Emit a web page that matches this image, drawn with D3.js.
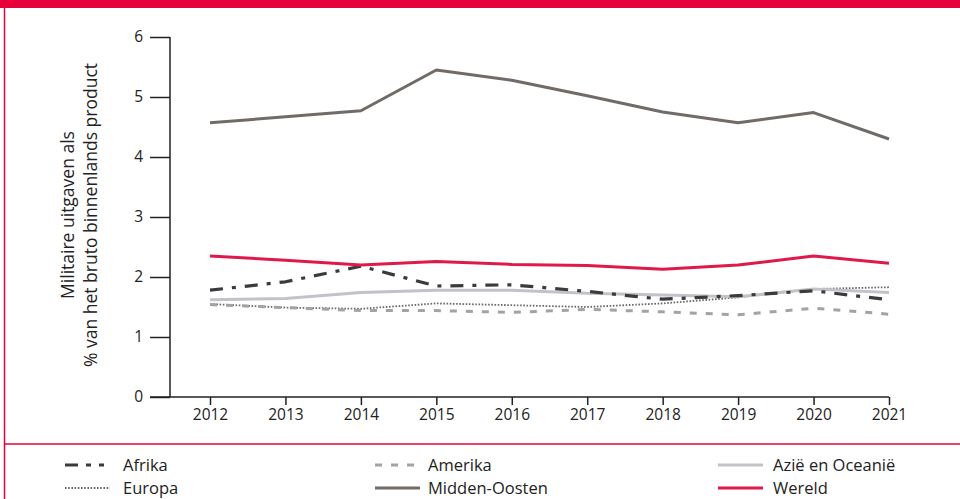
<!DOCTYPE html>
<html>
<head>
<meta charset="utf-8">
<script src="https://cdn.jsdelivr.net/npm/d3@7"></script>
<style>
  body { margin: 0; background: #fff; }
  svg { display: block; font-family: "Open Sans", "Noto Sans", sans-serif; }
</style>
</head>
<body>
<svg id="chart" width="960" height="499"></svg>
<script>
const years = [2012, 2013, 2014, 2015, 2016, 2017, 2018, 2019, 2020, 2021];
const yTicks = [0, 1, 2, 3, 4, 5, 6];

const afrika = [1.78, 1.92, 2.18, 1.85, 1.87, 1.76, 1.63, 1.69, 1.77, 1.62];
const amerika = [1.54, 1.49, 1.44, 1.44, 1.41, 1.46, 1.42, 1.37, 1.48, 1.38];
const azie = [1.62, 1.64, 1.74, 1.78, 1.78, 1.73, 1.70, 1.67, 1.80, 1.74];
const europa = [1.55, 1.49, 1.47, 1.56, 1.53, 1.50, 1.56, 1.66, 1.80, 1.83];
const middenOosten = [4.57, 4.67, 4.77, 5.45, 5.28, 5.02, 4.75, 4.57, 4.74, 4.30];
const wereld = [2.35, 2.28, 2.20, 2.26, 2.21, 2.19, 2.13, 2.20, 2.35, 2.23];

const series = [
  { name: "Europa", values: europa, color: "#6a6a6a", width: 1.8, dash: "1.6 1.6", row: 1, col: 0 },
  { name: "Amerika", values: amerika, color: "#a3a3a3", width: 3, dash: "7 9", row: 0, col: 1 },
  { name: "Azië en Oceanië", values: azie, color: "#c4c2c8", width: 3, dash: null, row: 0, col: 2 },
  { name: "Afrika", values: afrika, color: "#3b3b3b", width: 3.2, dash: "13 9 4 9", row: 0, col: 0 },
  { name: "Midden-Oosten", values: middenOosten, color: "#706b67", width: 3, dash: null, row: 1, col: 1 },
  { name: "Wereld", values: wereld, color: "#e0194b", width: 3, dash: null, row: 1, col: 2 },
];

const svg = d3.select("#chart");
const red = "#e8003d";
const font = '"Open Sans", "Noto Sans", sans-serif';

// frame
svg.append("rect").attr("x", 0).attr("y", 0).attr("width", 960).attr("height", 8).attr("fill", red);
svg.append("line").attr("x1", 4.5).attr("x2", 4.5).attr("y1", 8).attr("y2", 499)
  .attr("stroke", red).attr("stroke-width", 1.5);
svg.append("line").attr("x1", 4.5).attr("x2", 960).attr("y1", 444).attr("y2", 444)
  .attr("stroke", red).attr("stroke-width", 1.5);

const x = d3.scaleLinear().domain([2012, 2021]).range([210, 889]);
const y = d3.scaleLinear().domain([0, 6]).range([397, 37]);

const yAxis = svg.append("g")
  .attr("transform", "translate(170,0)")
  .call(d3.axisLeft(y).tickValues(yTicks).tickFormat(d3.format("d")).tickSize(20).tickSizeOuter(0).tickPadding(7));
yAxis.select(".domain").attr("d", `M0,${y(6)}V${y(0)}`);

const xAxis = svg.append("g")
  .attr("transform", `translate(0,${y(0)})`)
  .call(d3.axisBottom(x).tickValues(years).tickFormat(d3.format("d")).tickSize(8).tickSizeOuter(0).tickPadding(4));
xAxis.select(".domain").attr("d", `M150,0H${x(2021)}`);

[yAxis, xAxis].forEach((g) => {
  g.attr("font-family", font).attr("font-size", 15.5);
  g.selectAll("line, path").attr("stroke", "#222").attr("stroke-width", 1.5);
  g.selectAll("text").attr("fill", "#222");
});

// y axis title
const title = svg.append("text")
  .attr("transform", `translate(0,215) rotate(-90)`)
  .attr("text-anchor", "middle")
  .attr("font-family", font)
  .attr("font-size", 17.5)
  .attr("fill", "#222");
title.append("tspan").attr("x", 0).attr("y", 74).text("Militaire uitgaven als");
title.append("tspan").attr("x", 0).attr("y", 97).text("% van het bruto binnenlands product");

const line = d3.line()
  .x((d, i) => x(years[i]))
  .y((d) => y(d));

svg.append("g")
  .selectAll("path")
  .data(series)
  .join("path")
  .attr("fill", "none")
  .attr("stroke", (d) => d.color)
  .attr("stroke-width", (d) => d.width)
  .attr("stroke-dasharray", (d) => d.dash)
  .attr("stroke-linejoin", "round")
  .attr("d", (d) => line(d.values));

// legend
const colX = [65, 375, 718];
const rowY = [465, 488];
const legend = svg.append("g")
  .attr("font-family", font)
  .attr("font-size", 16.5)
  .attr("fill", "#222")
  .selectAll("g")
  .data(series)
  .join("g")
  .attr("transform", (d) => `translate(${colX[d.col]},${rowY[d.row]})`);

legend.append("line")
  .attr("x1", 0).attr("x2", 45).attr("y1", 0).attr("y2", 0)
  .attr("stroke", (d) => d.color)
  .attr("stroke-width", (d) => d.width)
  .attr("stroke-dasharray", (d) => (d.name === "Afrika" ? "13 8 5 8 5 8" : d.dash));

legend.append("text")
  .attr("x", (d) => (d.col === 1 ? 53 : d.col === 2 ? 55 : 58))
  .attr("y", 0)
  .attr("dy", "0.35em")
  .text((d) => d.name);
</script>
</body>
</html>
